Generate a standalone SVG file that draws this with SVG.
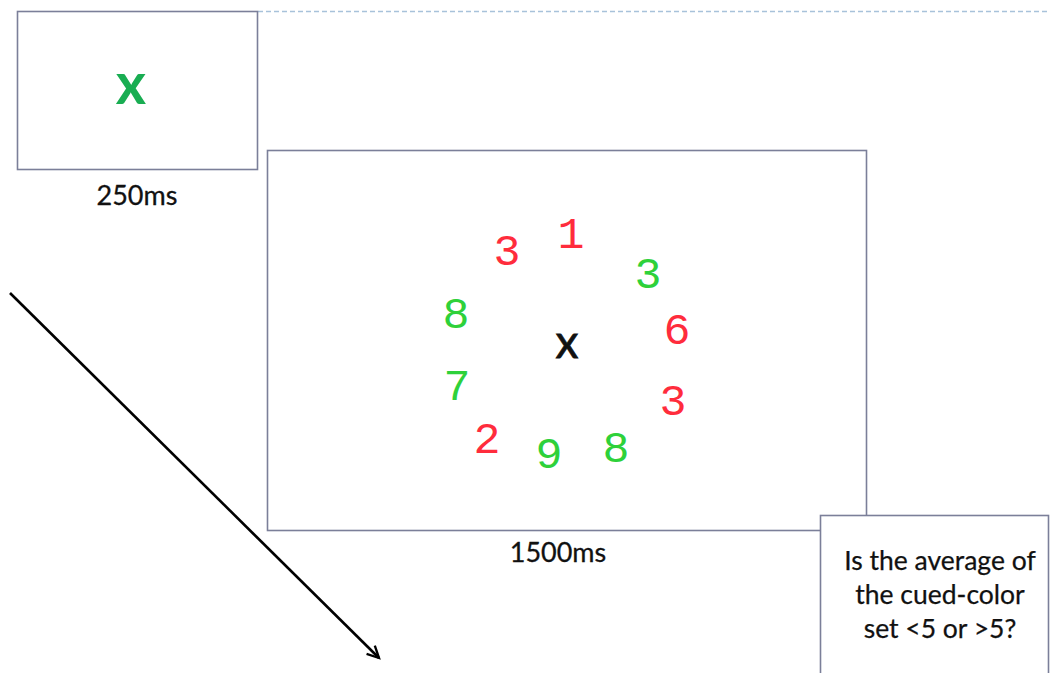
<svg xmlns="http://www.w3.org/2000/svg" width="1050" height="673" viewBox="0 0 1050 673">
<style>
.frame{fill:#fff;stroke:#7b7f99;stroke-width:1.6}
.lbl{font-family:Lato,"Open Sans","Liberation Sans",sans-serif;font-size:27px;fill:#111;text-anchor:middle;stroke:#111;stroke-width:0.3}
.q{font-family:Lato,"Open Sans","Liberation Sans",sans-serif;font-size:26.5px;fill:#111;text-anchor:middle;stroke:#111;stroke-width:0.25}
.d{font-family:"Liberation Mono","DejaVu Sans Mono",monospace;font-size:45px;text-anchor:middle}
.r{fill:#ff2c3c}
.g{fill:#2ed13a}
</style>
<defs>
<marker id="ah" viewBox="0 0 12 12" refX="10" refY="6" markerWidth="6" markerHeight="6" orient="auto" markerUnits="strokeWidth">
<path d="M1,1.5 L10,6 L1,10.5" fill="none" stroke="#000" stroke-width="1.8"/>
</marker>
</defs>
<line x1="258" y1="11.5" x2="1050" y2="11.5" stroke="#a8c2da" stroke-width="1.6" stroke-dasharray="5,3"/>
<g id="fixation">
<rect class="frame" x="17.5" y="11.5" width="240" height="158"/>
<text x="131" y="104" font-family="Lato,'Liberation Sans',sans-serif" font-weight="bold" font-size="58" fill="#19ad52" text-anchor="middle">x</text>
<text class="lbl" x="137" y="205">250ms</text>
</g>
<g id="display">
<rect class="frame" x="267.5" y="150.5" width="599" height="380"/>
<text class="d r" x="507" y="265">3</text>
<text class="d r" x="571" y="248">1</text>
<text class="d g" x="648" y="288">3</text>
<text class="d r" x="677" y="344">6</text>
<text class="d g" x="456" y="328">8</text>
<text class="d g" x="457" y="400">7</text>
<text class="d r" x="673" y="415">3</text>
<text class="d r" x="487" y="453">2</text>
<text class="d g" x="549" y="468">9</text>
<text class="d g" x="616" y="462">8</text>
<text x="567" y="358" font-family="Lato,'Liberation Sans',sans-serif" font-size="46" fill="#111" stroke="#111" stroke-width="0.8" text-anchor="middle">x</text>
<text class="lbl" x="558" y="562">1500ms</text>
</g>
<g id="question">
<rect class="frame" x="820.5" y="515.5" width="228" height="170"/>
<text class="q" x="940" y="570">Is the average of</text>
<text class="q" x="940" y="604">the cued-color</text>
<text class="q" x="940" y="638">set &lt;5 or &gt;5?</text>
</g>
<g id="connectors">
<line x1="10" y1="293" x2="379" y2="658" stroke="#000" stroke-width="2.6" marker-end="url(#ah)"/>
</g>
</svg>
